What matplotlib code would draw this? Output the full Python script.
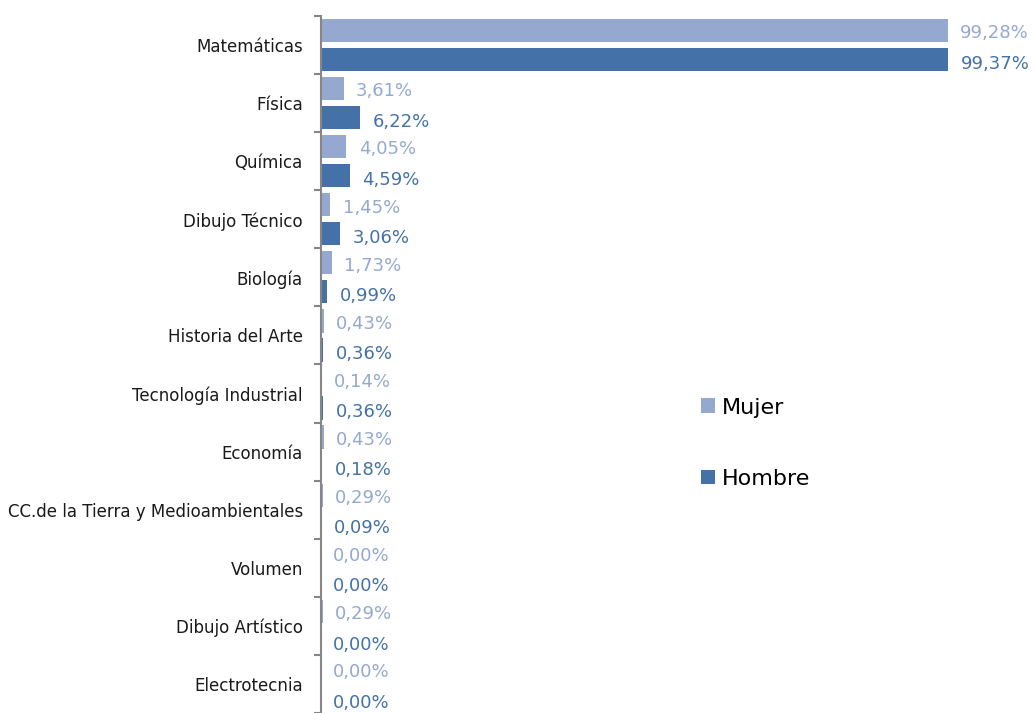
import numpy as np
import matplotlib.pyplot as plt

categorias = ["Matemáticas", "Física", "Química", "Dibujo Técnico", "Biología",
              "Historia del Arte", "Tecnología Industrial", "Economía",
              "CC.de la Tierra y Medioambientales", "Volumen", "Dibujo Artístico",
              "Electrotecnia"]
mujer = [99.28, 3.61, 4.05, 1.45, 1.73, 0.43, 0.14, 0.43, 0.29, 0.00, 0.29, 0.00]
hombre = [99.37, 6.22, 4.59, 3.06, 0.99, 0.36, 0.36, 0.18, 0.09, 0.00, 0.00, 0.00]

c_mujer = "#95a9d0"
c_hombre = "#4472a8"

fig = plt.figure(figsize=(10.35, 7.13), dpi=100)
ax = fig.add_axes([0.310, 0.0, 0.610, 0.9776])

n = len(categorias)
y = np.arange(n)
h = 0.40
d = 0.25
ax.barh(y - d, mujer, height=h, color=c_mujer, label="Mujer")
ax.barh(y + d, hombre, height=h, color=c_hombre, label="Hombre")

# etiquetas de valor, con coma decimal
for i in range(n):
    ax.annotate(f"{mujer[i]:.2f}%".replace(".", ","), (mujer[i], y[i] - d),
                xytext=(9, -2), textcoords="offset points", va="center",
                ha="left", fontsize=13, color=c_mujer)
    ax.annotate(f"{hombre[i]:.2f}%".replace(".", ","), (hombre[i], y[i] + d),
                xytext=(9, -3), textcoords="offset points", va="center",
                ha="left", fontsize=13, color=c_hombre)

ax.set_xlim(0, 100)
ax.set_ylim(n - 0.5, -0.5)
ax.set_yticks(y)
ax.set_yticklabels(categorias, fontsize=12, color="#1a1a1a")
ax.set_yticks(np.arange(-0.5, n, 1), minor=True)
ax.tick_params(axis="y", which="major", length=0, pad=13)
ax.tick_params(axis="y", which="minor", length=5, width=1.5, color="#868686")
ax.set_xticks([])
for s in ["top", "right", "bottom"]:
    ax.spines[s].set_visible(False)
ax.spines["left"].set_color("#868686")
ax.spines["left"].set_linewidth(1.5)

ax.legend(loc="center left", bbox_to_anchor=(0.57, 0.387), frameon=False,
          fontsize=16, handlelength=0.65, handleheight=0.65, labelspacing=2.3,
          handletextpad=0.3)

fig.savefig("out.png", dpi=100)
